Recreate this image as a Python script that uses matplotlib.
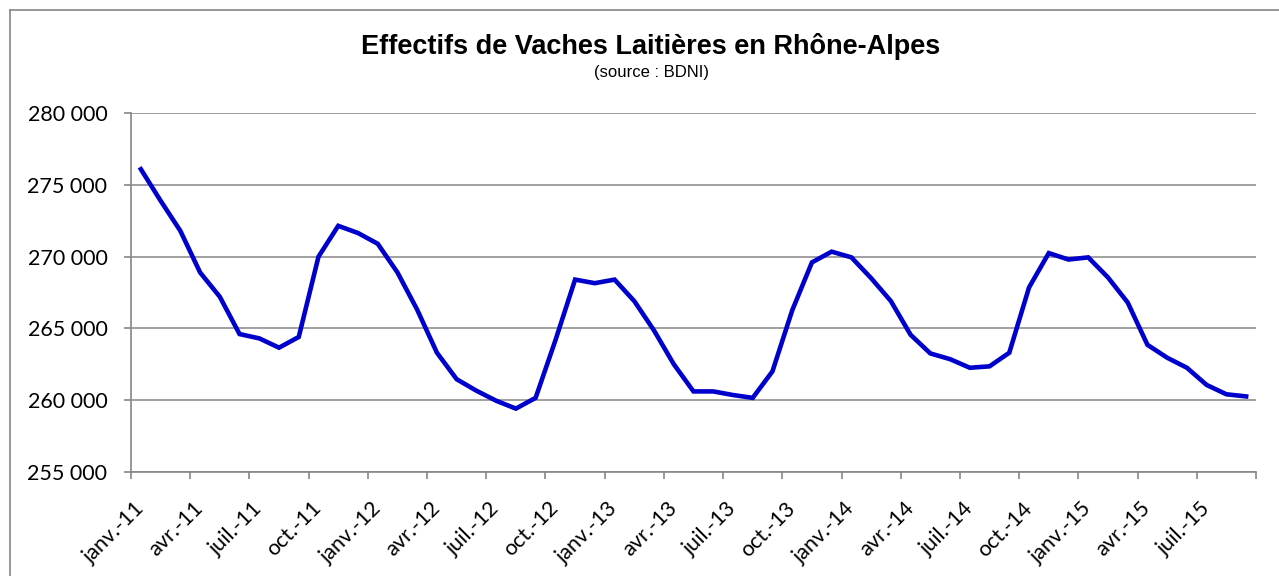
import numpy as np
import matplotlib
matplotlib.use("Agg")
from matplotlib import pyplot as plt
from matplotlib.ticker import FuncFormatter, FixedLocator
from matplotlib.transforms import ScaledTranslation

# effectifs mensuels, janv.-11 -> sept.-15
mois = ['janv.', 'févr.', 'mars', 'avr.', 'mai', 'juin',
        'juil.', 'août', 'sept.', 'oct.', 'nov.', 'déc.']
annees = ['11', '12', '13', '14', '15']
categories = [m + '-' + a for a in annees for m in mois][:57]

effectifs = [276100, 273900, 271800, 268900, 267200, 264600, 264300, 263650,
             264400, 270000, 272150, 271650,
             270900, 268900, 266300, 263300, 261450, 260650, 259950, 259400,
             260150, 264150, 268400, 268150,
             268400, 266900, 264850, 262500, 260600, 260600, 260350, 260150,
             262000, 266250, 269600, 270350,
             269950, 268500, 266900, 264550, 263250, 262850, 262250, 262350,
             263300, 267850, 270250, 269800,
             269950, 268550, 266800, 263850, 262950, 262250, 261050, 260400,
             260250]

gris = '#868686'

fig = plt.figure(figsize=(12.79, 5.76), dpi=100)
ax = fig.add_axes([131/1279, 1 - 471.7/576, (1256 - 131)/1279, (471.7 - 113.3)/576])

x = np.arange(len(effectifs))
ax.plot(x, effectifs, color='#0000CC', lw=3.3, solid_joinstyle='miter', zorder=3)

ax.set_xlim(-0.5, len(effectifs) - 0.5)
ax.set_ylim(255000, 280000)
ax.set_yticks(np.arange(255000, 280001, 5000))
ax.yaxis.set_major_formatter(FuncFormatter(lambda v, p: '{:,.0f}'.format(v).replace(',', ' ')))
ax.grid(axis='y', color=gris, lw=1.1, zorder=1)
ax.set_axisbelow(True)

# ticks entre categories, etiquettes tous les 3 mois
ax.xaxis.set_major_locator(FixedLocator(np.arange(-0.5, len(effectifs), 3)))
ax.xaxis.set_minor_locator(FixedLocator(x[::3]))
ax.set_xticklabels([], minor=False)
ax.set_xticklabels([categories[i] for i in x[::3]], minor=True,
                   rotation=45, ha='right', va='center', rotation_mode='anchor',
                   fontsize=15.5, family='Lato')
decal = ScaledTranslation(9/100, 0, fig.dpi_scale_trans)
for lab in ax.get_xticklabels(minor=True):
    lab.set_transform(lab.get_transform() + decal)
ax.tick_params(axis='x', which='major', length=5, color=gris, width=1.2)
ax.tick_params(axis='x', which='minor', length=0, pad=24)
ax.tick_params(axis='y', length=5, color=gris, width=1.2, pad=12, labelsize=15.5)
for lab in ax.get_yticklabels():
    lab.set_family('Lato')

for s in ['top', 'right']:
    ax.spines[s].set_visible(False)
for s in ['left', 'bottom']:
    ax.spines[s].set_color(gris)
    ax.spines[s].set_linewidth(1.2)

fig.text(651/1279, 1 - 46/576, 'Effectifs de Vaches Laitières en Rhône-Alpes',
         ha='center', va='center', fontsize=19.5, fontweight='bold', family='Liberation Sans')
fig.text(651/1279, 1 - 72/576, '(source : BDNI)',
         ha='center', va='center', fontsize=12, family='Liberation Sans')

# cadre du graphique
fig.add_artist(plt.Line2D([10/1279, 1], [1 - 10/576, 1 - 10/576], color=gris, lw=1.2))
fig.add_artist(plt.Line2D([10/1279, 10/1279], [0, 1 - 10/576], color=gris, lw=1.2))

fig.savefig('out.png', dpi=100)
